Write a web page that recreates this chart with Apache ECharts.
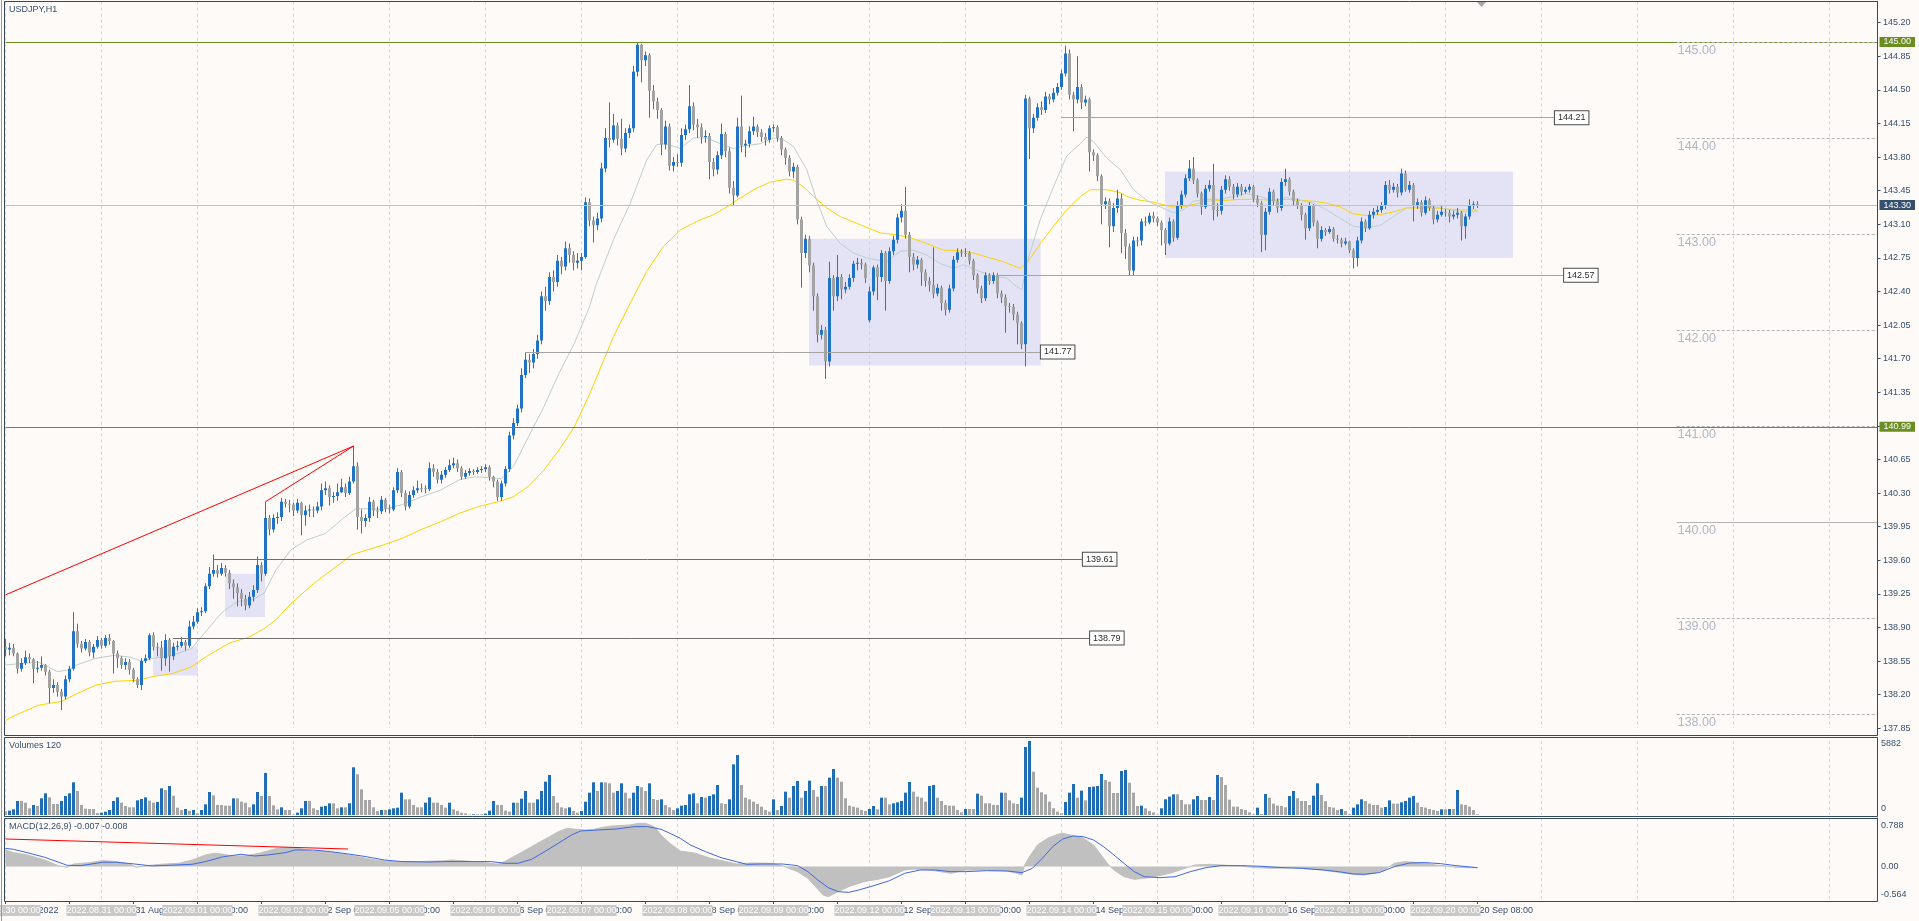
<!DOCTYPE html>
<html><head><meta charset="utf-8">
<script src="https://cdn.jsdelivr.net/npm/echarts/dist/echarts.min.js"></script>
<style>html,body{margin:0;padding:0;background:#FEFAF8;overflow:hidden}#c{width:1919px;height:921px}</style>
</head><body><div id="c"></div><script>
// ---------------- data ----------------
const chartTitle = 'USDJPY,H1';
const volumeTitle = 'Volumes 120';
const macdTitle = 'MACD(12,26,9) -0.007 -0.008';
const days = ['2022.08.30','2022.08.31','2022.09.01','2022.09.02','2022.09.05','2022.09.06','2022.09.07','2022.09.08','2022.09.09','2022.09.12','2022.09.13','2022.09.14','2022.09.15','2022.09.16','2022.09.19','2022.09.20'];
const lastHour = 8;
const monthNames = {'08':'Aug','09':'Sep'};
const firstLabel = '30 Aug 2022';
const firstOpen = 138.70;
const openGaps = [[216, 142.10]];
const closes = [
138.67,138.69,138.63,138.47,138.53,138.59,138.57,138.47,138.48,138.51,
138.44,138.27,138.30,138.23,138.18,138.36,138.47,138.86,138.73,138.68,
138.75,138.64,138.70,138.77,138.71,138.79,138.76,138.63,138.58,138.51,
138.54,138.46,138.36,138.30,138.55,138.58,138.82,138.70,138.69,138.58,
138.77,138.60,138.70,138.71,138.75,138.71,138.91,138.96,139.06,139.07,
139.33,139.46,139.50,139.46,139.52,139.47,139.36,139.32,139.26,139.20,
139.13,139.22,139.29,139.55,139.46,140.04,139.92,140.04,140.05,140.21,
140.19,140.18,140.12,140.20,140.07,140.12,140.13,140.12,140.16,140.33,
140.35,140.26,140.27,140.31,140.36,140.30,140.42,140.58,140.05,140.01,
140.04,140.21,140.12,140.11,140.23,140.14,140.13,140.33,140.52,140.30,
140.16,140.28,140.33,140.35,140.35,140.34,140.56,140.52,140.44,140.49,
140.54,140.59,140.61,140.56,140.47,140.51,140.53,140.52,140.54,140.55,
140.57,140.47,140.42,140.26,140.40,140.55,140.90,141.03,141.18,141.53,
141.69,141.66,141.75,141.89,142.35,142.30,142.55,142.50,142.72,142.66,
142.85,142.78,142.70,142.72,142.76,143.33,143.14,143.09,143.16,143.68,
144.00,143.98,144.13,143.99,143.89,144.05,144.10,144.69,144.97,144.81,
144.86,144.49,144.38,144.29,143.93,144.12,143.71,143.75,143.74,144.03,
144.09,144.33,144.14,144.11,144.01,144.02,143.75,143.67,143.82,144.04,
143.86,143.48,143.40,144.12,143.92,143.94,144.07,144.12,144.06,144.01,
143.98,144.10,144.11,144.00,143.88,143.79,143.65,143.70,143.15,142.80,
142.95,142.67,142.35,141.95,142.00,141.67,142.54,142.35,142.55,142.42,
142.45,142.54,142.69,142.70,142.68,142.54,142.40,142.65,142.55,142.80,
142.51,142.82,142.94,143.17,143.24,142.99,142.76,142.68,142.73,142.60,
142.51,142.47,142.38,142.44,142.28,142.21,142.43,142.73,142.81,142.80,
142.80,142.72,142.57,142.43,142.33,142.57,142.51,142.57,142.38,142.34,
142.25,142.24,142.16,142.07,141.85,144.41,144.10,144.21,144.32,144.29,
144.43,144.40,144.47,144.53,144.67,144.88,144.45,144.40,144.53,144.37,
144.40,143.85,143.82,143.60,143.31,143.34,143.08,143.27,143.37,143.01,
142.87,142.62,142.93,142.93,143.13,143.12,143.19,143.16,143.12,143.04,
142.90,143.13,142.96,143.30,143.41,143.58,143.68,143.56,143.42,143.28,
143.47,143.51,143.25,143.24,143.46,143.57,143.49,143.41,143.49,143.44,
143.46,143.49,143.37,143.32,142.99,143.23,143.44,143.34,143.27,143.54,
143.57,143.44,143.34,143.30,143.20,143.06,143.29,143.12,142.95,143.04,
143.02,143.05,142.95,142.94,142.90,142.92,142.83,142.75,142.93,143.13,
143.06,143.20,143.23,143.25,143.29,143.51,143.46,143.49,143.43,143.63,
143.46,143.51,143.30,143.33,143.22,143.35,143.27,143.15,143.20,143.23,
143.22,143.18,143.20,143.22,143.08,143.18,143.30,143.31,143.30];
const highs = [
138.78,138.74,138.73,138.64,138.58,138.66,138.63,138.58,138.55,138.60,
138.52,138.46,138.36,138.33,138.26,138.40,138.50,139.06,138.94,138.76,
138.78,138.77,138.73,138.81,138.79,138.82,138.83,138.77,138.66,138.60,
138.58,138.57,138.48,138.38,138.58,138.62,138.84,138.85,138.74,138.76,
138.83,138.79,138.74,138.76,138.80,138.77,138.97,139.02,139.10,139.11,
139.36,139.53,139.66,139.55,139.57,139.55,139.50,139.40,139.36,139.30,
139.24,139.27,139.34,139.64,139.58,140.21,140.07,140.08,140.10,140.25,
140.24,140.23,140.20,140.24,140.21,140.17,140.18,140.16,140.21,140.40,
140.42,140.38,140.31,140.40,140.45,140.40,140.47,140.79,140.62,140.13,
140.08,140.26,140.23,140.16,140.27,140.25,140.18,140.36,140.56,140.54,
140.33,140.32,140.37,140.43,140.40,140.38,140.62,140.60,140.55,140.53,
140.57,140.65,140.67,140.65,140.58,140.54,140.56,140.55,140.57,140.58,
140.60,140.59,140.48,140.44,140.43,140.58,140.94,141.08,141.22,141.60,
141.77,141.75,141.80,141.95,142.40,142.45,142.60,142.62,142.78,142.76,
142.92,142.90,142.82,142.80,142.80,143.38,143.37,143.18,143.22,143.74,
144.10,144.37,144.25,144.16,144.20,144.10,144.14,144.75,144.99,144.98,
144.90,144.88,144.55,144.42,144.31,144.18,144.15,143.80,143.83,144.10,
144.14,144.55,144.37,144.20,144.15,144.08,144.05,143.79,143.86,144.15,
144.06,143.90,143.55,144.21,144.44,143.98,144.12,144.22,144.14,144.09,
144.05,144.13,144.14,144.13,144.02,143.90,143.82,143.74,143.72,143.18,
142.99,142.98,142.70,142.38,142.05,142.03,142.71,142.57,142.78,142.58,
142.50,142.58,142.72,142.75,142.74,142.70,142.45,142.67,142.68,142.83,
142.82,142.86,142.98,143.21,143.31,143.49,143.02,142.80,142.77,142.75,
142.63,142.55,142.86,142.48,142.46,142.31,142.47,142.77,142.85,142.84,
142.85,142.82,142.74,142.59,142.46,142.60,142.59,142.60,142.59,142.41,
142.37,142.28,142.27,142.19,142.09,144.45,144.43,144.25,144.36,144.38,
144.48,144.46,144.52,144.57,144.71,144.96,144.92,144.48,144.85,144.56,
144.44,144.42,143.88,143.84,143.62,143.38,143.37,143.32,143.46,143.42,
143.05,142.90,142.97,142.97,143.16,143.18,143.22,143.23,143.18,143.14,
143.06,143.17,143.15,143.34,143.45,143.62,143.77,143.80,143.58,143.44,
143.51,143.56,143.73,143.32,143.50,143.61,143.60,143.52,143.53,143.52,
143.49,143.52,143.51,143.40,143.34,143.27,143.48,143.46,143.37,143.58,
143.68,143.59,143.46,143.37,143.32,143.22,143.33,143.31,143.14,143.08,
143.06,143.08,143.07,142.99,142.96,142.96,142.93,142.85,142.97,143.17,
143.15,143.24,143.27,143.29,143.33,143.55,143.56,143.53,143.52,143.68,
143.66,143.55,143.53,143.37,143.35,143.39,143.37,143.29,143.24,143.29,
143.26,143.25,143.24,143.27,143.24,143.21,143.36,143.34,143.34];
const lows = [
138.60,138.61,138.60,138.42,138.44,138.51,138.53,138.32,138.43,138.45,
138.40,138.11,138.22,138.18,138.04,138.15,138.33,138.45,138.69,138.64,
138.66,138.60,138.58,138.68,138.68,138.69,138.72,138.42,138.48,138.47,
138.46,138.41,138.33,138.27,138.25,138.53,138.56,138.66,138.60,138.45,
138.50,138.44,138.56,138.66,138.69,138.66,138.69,138.88,138.94,139.02,
139.05,139.30,139.43,139.42,139.44,139.43,139.30,139.20,139.12,139.12,
139.08,139.10,139.17,139.26,139.38,139.44,139.86,139.89,139.98,140.01,
140.15,140.10,140.06,140.09,139.86,139.96,140.05,140.05,140.09,140.12,
140.28,140.17,140.20,140.22,140.30,140.26,140.28,140.40,139.92,139.88,
139.95,140.00,140.06,140.04,140.08,140.10,140.09,140.11,140.30,140.26,
140.12,140.14,140.25,140.30,140.31,140.30,140.32,140.47,140.40,140.40,
140.46,140.52,140.56,140.52,140.44,140.45,140.48,140.49,140.50,140.51,
140.52,140.43,140.36,140.22,140.22,140.37,140.52,140.86,141.00,141.14,
141.50,141.55,141.60,141.70,141.85,142.20,142.26,142.40,142.45,142.58,
142.62,142.70,142.62,142.64,142.62,142.74,143.08,142.91,143.04,143.12,
143.64,143.90,143.95,143.92,143.82,143.85,144.00,144.06,144.64,144.58,
144.75,144.21,144.30,144.20,143.82,143.88,143.66,143.65,143.70,143.70,
143.98,144.05,144.08,144.00,143.94,143.95,143.57,143.60,143.62,143.78,
143.80,143.42,143.30,143.38,143.85,143.80,143.90,144.03,144.01,143.96,
143.92,143.95,144.06,143.96,143.82,143.72,143.60,143.58,143.10,142.44,
142.75,142.60,142.20,141.87,141.90,141.49,141.62,142.20,142.30,142.32,
142.38,142.42,142.50,142.62,142.63,142.49,142.08,142.36,142.31,142.50,
142.20,142.48,142.78,142.90,143.12,142.95,142.60,142.62,142.64,142.46,
142.45,142.40,142.33,142.35,142.20,142.15,142.18,142.40,142.70,142.76,
142.76,142.68,142.52,142.38,142.28,142.30,142.47,142.48,142.33,142.28,
141.97,142.18,142.10,141.85,141.80,141.62,143.78,144.05,144.18,144.24,
144.26,144.35,144.37,144.44,144.50,144.64,144.40,144.07,144.36,144.30,
144.33,143.65,143.76,143.55,143.10,143.26,142.86,143.02,143.22,142.80,
142.74,142.57,142.57,142.87,142.88,143.08,143.10,143.12,143.08,142.88,
142.78,142.88,142.92,142.94,143.26,143.38,143.55,143.52,143.38,143.20,
143.26,143.44,143.14,143.18,143.20,143.42,143.45,143.36,143.38,143.40,
143.42,143.43,143.33,143.28,142.81,142.83,143.20,143.30,143.22,143.24,
143.50,143.40,143.30,143.26,143.14,142.94,143.03,143.08,142.85,142.92,
142.98,143.00,142.92,142.90,142.86,142.88,142.80,142.64,142.66,142.90,
143.02,143.04,143.16,143.20,143.22,143.26,143.42,143.43,143.38,143.40,
143.44,143.43,143.13,143.26,143.18,143.20,143.24,143.10,143.12,143.18,
143.18,143.12,143.15,143.16,142.93,142.95,143.15,143.26,143.27];
const volumes = [
300,345,450,1113,1113,980,530,795,715,1325,
1722,1404,875,875,1113,1510,1722,2597,1908,795,
503,477,477,159,185,265,397,1113,1404,980,
715,610,610,1166,1272,1404,1140,980,1033,2120,
1987,2305,1537,583,397,477,345,397,132,397,
848,1828,1563,795,795,742,742,1325,1325,1060,
980,610,848,1828,1510,3339,1510,768,450,610,
397,397,30,185,530,1113,1113,530,397,662,
715,927,927,530,610,610,927,3790,3233,2040,
1192,1192,610,318,397,397,450,530,583,1775,
1245,1245,795,610,610,980,1404,980,980,795,
583,980,450,318,185,132,30,53,53,53,
106,345,1113,795,795,345,265,980,980,1298,
1908,980,980,1245,1908,2650,3180,1510,980,610,
530,610,318,185,318,1060,1775,2597,1908,2597,
2597,2517,1775,1908,2517,1775,1325,1775,2305,2200,
1908,2517,1272,1192,1245,795,610,397,530,
742,795,1643,1723,928,1431,1378,1511,1643,2385,928,
875,1246,4028,4770,2385,1378,1246,1060,875,663,
398,265,1246,398,716,1855,1378,2306,2703,1378,
1908,2730,1988,1458,2306,2306,2968,3657,2968,2650,
1325,742,663,583,398,318,477,716,451,1378,
1378,848,928,1007,1113,1776,2624,1855,1458,1378,
1060,2306,2385,1378,1113,795,742,742,398,212,
477,477,477,1696,1537,928,928,795,795,1776,
1776,1166,928,875,1378,5406,5882,3445,2173,1802,
1643,1060,530,265,133,1034,1776,2465,1378,1935,
1166,2226,2253,2306,3260,2783,2650,1749,1749,3498,
3578,2571,1776,716,742,530,318,212,30,530,
1246,1458,1643,1643,1193,848,848,1246,1511,1193,
1193,1431,1193,3180,3021,2385,1219,663,663,477,
398,212,53,583,80,1670,1378,901,742,716,
610,1511,1908,1325,1113,1113,795,1537,2518,1590,
1100,636,583,398,477,318,53,583,848,1246,
1113,901,795,795,583,636,1166,901,901,1007,
1113,1378,1511,980,636,583,477,398,318,451,
451,477,477,1988,848,795,663,398,53];
const maFast = [[0,138.51],[8.2,138.54],[13,138.44],[15.9,138.46],[17.8,138.51],[22.6,138.58],[27.4,138.61],[31.2,138.59],[34.1,138.55],[37,138.58],[41.7,138.61],[46.5,138.68],[50.3,138.87],[54.2,139.06],[58,139.17],[61.8,139.19],[64.7,139.26],[67.6,139.5],[71.4,139.71],[75.2,139.81],[80,139.88],[84.8,140.05],[87.7,140.14],[94.4,140.13],[99.2,140.18],[103.9,140.26],[108.7,140.33],[113.5,140.44],[117.3,140.47],[121.2,140.46],[124,140.45],[127,140.58],[130.8,140.89],[134.6,141.2],[138.4,141.55],[142.2,141.86],[146,142.24],[147.8,142.49],[152,142.94],[156.2,143.32],[160.3,143.77],[162.8,143.93],[165,143.94],[168.7,143.89],[172,144.0],[175.3,144.0],[178.7,143.94],[182,143.89],[185.3,143.92],[188.7,143.94],[192,144.0],[194.5,143.98],[197,143.91],[200.3,143.67],[202.8,143.35],[205.3,143.08],[208.7,142.9],[212,142.8],[215.3,142.75],[220.3,142.71],[223.7,142.82],[227,142.83],[230.3,142.78],[233.7,142.69],[237,142.64],[239.5,142.68],[242.8,142.62],[247,142.56],[250.3,142.54],[252.8,142.45],[254.1,142.42],[255.3,142.69],[258.7,143.15],[262,143.49],[265.3,143.81],[268.7,143.94],[270.3,144.01],[272,143.96],[275.3,143.79],[278.7,143.67],[282,143.46],[285.3,143.35],[288.7,143.28],[292,143.22],[294.5,143.25],[297,143.34],[300.3,143.36],[303.7,143.36],[307,143.39],[310.3,143.42],[313.7,143.39],[317,143.34],[320.3,143.38],[323.7,143.35],[327,143.32],[330.3,143.25],[333.7,143.16],[337,143.08],[340.3,143.06],[343.7,143.09],[347,143.18],[350.3,143.27],[353.7,143.28],[357,143.28],[360.3,143.26],[363.7,143.23],[368,143.23]];
const maSlow = [[0,137.93],[1.6,137.97],[8.2,138.09],[14,138.13],[17.8,138.21],[22.6,138.3],[27.4,138.34],[33.1,138.35],[37,138.39],[41.7,138.42],[46.5,138.49],[50.3,138.6],[56.1,138.74],[60.9,138.8],[64.7,138.89],[67.6,138.98],[71.4,139.15],[77.1,139.36],[84.8,139.6],[86.7,139.66],[94.4,139.76],[99.2,139.83],[103.9,139.92],[108.7,140.0],[113.5,140.09],[118.3,140.16],[123.1,140.21],[126.9,140.26],[130.7,140.37],[134.6,140.54],[138.4,140.75],[142.2,140.99],[146,141.33],[147.8,141.51],[152,141.93],[156.2,142.28],[160.3,142.61],[164.5,142.87],[168.7,143.04],[172.8,143.13],[177,143.2],[180.3,143.28],[182.8,143.35],[187,143.46],[191.2,143.54],[195.3,143.57],[197,143.56],[199.5,143.49],[202,143.39],[205.3,143.27],[208.7,143.18],[212.8,143.11],[217,143.04],[218.7,143.01],[222.8,142.99],[226.2,142.96],[230.3,142.9],[234.5,142.83],[237,142.83],[241.2,142.81],[245.3,142.76],[249.5,142.71],[253.7,142.64],[255.3,142.69],[258.7,142.9],[262,143.08],[265.3,143.25],[268.7,143.39],[271.2,143.46],[275.3,143.46],[278.7,143.43],[280.3,143.39],[283.7,143.35],[287,143.33],[288.7,143.31],[292,143.28],[295.3,143.29],[300.3,143.34],[305.3,143.35],[308.7,143.36],[312,143.36],[317,143.35],[320.3,143.36],[323.7,143.35],[327,143.34],[330.3,143.32],[333.7,143.28],[337,143.21],[340.3,143.19],[343.7,143.2],[347,143.23],[350.3,143.27],[353.7,143.27],[357,143.27],[360.3,143.26],[363.7,143.25],[368,143.25]];
const macdHist = [[0,0.267],[2,0.224],[5.4,0.186],[9.8,0.104],[13.2,0.012],[15.4,-0.015],[17.1,0.039],[21,0.061],[24.3,0.094],[27.7,0.078],[31,0.039],[32.7,-0.015],[35.5,0.012],[38.8,0.034],[43.3,0.05],[46.7,0.104],[50,0.186],[52.2,0.213],[54.5,0.197],[56.7,0.169],[59.5,0.169],[61.2,0.186],[63.4,0.213],[65.6,0.251],[67.9,0.294],[70.1,0.305],[72.3,0.305],[74.6,0.278],[76.8,0.251],[79,0.251],[81.3,0.229],[83.5,0.213],[85.7,0.186],[88,0.158],[90.2,0.131],[92.4,0.104],[94.7,0.088],[96.9,0.078],[102.5,0.078],[109.2,0.088],[111.4,0.104],[113.6,0.094],[117,0.078],[121.4,0.05],[123.1,0.034],[124.8,0.078],[127,0.158],[129.3,0.24],[131.5,0.321],[133.7,0.403],[136,0.484],[138.2,0.566],[140.4,0.62],[142.6,0.604],[144.9,0.593],[147.1,0.604],[149.3,0.636],[151.6,0.658],[156,0.674],[158.3,0.701],[160,0.701],[162.2,0.647],[163.9,0.511],[166.1,0.376],[168.7,0.251],[172.5,0.213],[176.3,0.131],[180.2,0.077],[182.7,0.039],[186.5,0.055],[191.6,0.05],[194.2,0.012],[195.5,-0.021],[198,-0.086],[200.6,-0.194],[202.5,-0.33],[204.4,-0.466],[205.7,-0.493],[208.2,-0.412],[210.8,-0.33],[214.6,-0.249],[218.4,-0.206],[221,-0.168],[224.8,-0.059],[227.3,-0.043],[231.2,-0.059],[233.7,-0.086],[236.3,-0.113],[240.1,-0.059],[245.2,-0.059],[250.3,-0.075],[252.9,-0.113],[254.1,-0.14],[254.8,0.023],[256,0.159],[258,0.349],[260.5,0.457],[263.1,0.523],[264.3,0.539],[266.9,0.501],[269.4,0.457],[272,0.349],[273.9,0.186],[275.8,0.023],[277.1,-0.059],[279.6,-0.168],[282.2,-0.211],[284.7,-0.195],[287.3,-0.168],[291.1,-0.113],[294.9,-0.032],[297.5,0.023],[301.3,0.034],[306.4,0.012],[309,0.001],[312.8,-0.021],[316.6,-0.032],[321.7,-0.021],[325.6,-0.043],[329.4,-0.059],[333.2,-0.097],[337,-0.129],[339.6,-0.14],[342.1,-0.113],[344.7,-0.059],[347.2,0.05],[349.8,0.077],[352.3,0.066],[354.9,0.05],[357.4,0.023],[360,0.007],[362.6,-0.015],[365.1,-0.021],[368,-0.021]];
const macdSignal = [[0,0.294],[2,0.278],[5.4,0.224],[9.8,0.148],[15.4,0.018],[18.8,0.012],[24.3,0.067],[27.7,0.067],[32.2,0.039],[36.6,0.007],[41.1,0.018],[46.7,0.034],[50,0.078],[54.5,0.158],[58.9,0.197],[62.3,0.169],[65.6,0.186],[70.1,0.224],[72.3,0.267],[76.8,0.267],[81.3,0.24],[85.7,0.202],[90.2,0.158],[94.7,0.104],[99.1,0.078],[105.8,0.072],[110.3,0.078],[117,0.078],[121.4,0.078],[124.8,0.05],[128.1,0.05],[131.5,0.115],[134.8,0.24],[138.2,0.376],[141.5,0.511],[143.8,0.577],[148.2,0.593],[152.7,0.609],[157.2,0.647],[160.5,0.647],[163.9,0.604],[166.1,0.539],[168.7,0.457],[171.2,0.349],[175,0.24],[178.9,0.142],[182.7,0.077],[185.3,0.034],[189.1,0.039],[194.2,0.039],[198,0.012],[200.6,-0.086],[203.1,-0.222],[205.7,-0.347],[208.2,-0.412],[210.8,-0.423],[213.3,-0.385],[217.1,-0.314],[221,-0.233],[224.8,-0.113],[228.6,-0.059],[232.5,-0.059],[236.3,-0.086],[240.1,-0.086],[245.2,-0.07],[250.3,-0.075],[254.1,-0.102],[256.7,-0.032],[259.2,0.131],[261.8,0.321],[264.3,0.446],[266.9,0.495],[269.4,0.484],[272,0.43],[274.5,0.321],[277.1,0.186],[279.6,0.05],[282.2,-0.086],[284.7,-0.168],[288.6,-0.184],[292.4,-0.168],[296.2,-0.086],[300.1,-0.021],[303.9,0.012],[309,0.012],[314.1,0.001],[319.2,-0.021],[324.3,-0.032],[329.4,-0.059],[333.2,-0.086],[337,-0.124],[339.6,-0.129],[343.4,-0.102],[347.2,-0.005],[351.1,0.055],[354.9,0.061],[358.7,0.045],[362.6,0.012],[368,-0.021]];
const macdTrend = [[0,0.446],[85.6,0.283]];
const priceAxis = {min:137.85, max:145.42, step:0.35};
const volumeMax = 5882;
const macdAxis = {min:-0.564, max:0.788, step:0.564};
const levelLines = [145.00, 140.99];
const bidPrice = 143.30;
const labelledLines = [[264,387.1,144.21],[248,389.4,142.57],[129.9,258.6,141.77],[51.9,269.1,139.61],[41.9,270.9,138.79]];
const trendLines = [[[0,139.24],[87,140.79]],[[65,140.21],[87,140.79]]];
const zones = [[36.9,48.0,138.70,138.40],[54.9,64.9,139.46,139.01],[200.9,258.8,142.95,141.63],[289.9,376.9,143.65,142.75]];
const roundLevels = [145,144,143,142,141,140,139,138];
const roundStart = 417.8;
const xMax = 468;

// ---------------- styles ----------------
const BG='#FEFAF8', UP='#1F72C4', DOWN='#A3A3A3', WICK='#5F6B6E', VUP='#1F6DB5', VDOWN='#A6A6A6';
const MAF='#BBCFCD', MAS='#FFD200', GRID='#D6D6D6', BORDER='#34495E', TXT='#34506E';
const LEVEL='#6B8E23', BIDC='#C0C0C0', ZONE='rgba(190,196,240,0.42)';
const FONT='"Liberation Sans", Arial, sans-serif';

// ---------------- build ----------------
const N = closes.length;
const gapMap = new Map(openGaps);
const candles = closes.map((c,i)=>[i, gapMap.has(i)?gapMap.get(i):(i===0?firstOpen:closes[i-1]), c, lows[i], highs[i]]);
const volData = volumes.map((v,i)=>({value:[i,v], itemStyle:{color:(i>0 && v>volumes[i-1])?VUP:VDOWN}}));
const cats = [];
days.forEach((d,di)=>{ const hmax = di===days.length-1 ? lastHour : 23; for(let h=0;h<=hmax;h++) cats.push(d+' '+String(h).padStart(2,'0')+':00'); });
while(cats.length < xMax+1) cats.push('');
function mt4Label(v, idx){
  if(idx===0) return firstLabel;
  const m = v.match(/^(\d{4})\.(\d{2})\.(\d{2}) (\d{2}:\d{2})$/);
  return m ? (parseInt(m[3],10)+' '+monthNames[m[2]]+' '+m[4]) : '';
}
const valueX = g => ({type:'value', gridIndex:g, min:0, max:xMax, interval:24, position:'bottom',
  axisLine:{show:false,onZero:false}, axisTick:{show:false}, axisLabel:{show:false},
  splitLine:{show:true, lineStyle:{color:GRID, type:[3,3], width:1}}});
const gridBase = {left:5.5, right:41.5, outerBoundsMode:'none', containLabel:false};

const markLines = [];
levelLines.forEach(p=>markLines.push({yAxis:p, lineStyle:{color:LEVEL,width:1,type:'solid'},
  label:{show:true, position:'end', distance:2, formatter:p.toFixed(2), color:'#FFFFFF', backgroundColor:LEVEL, padding:[1,4,0,4], lineHeight:9, fontSize:9, fontFamily:FONT}}));
markLines.push({yAxis:bidPrice, lineStyle:{color:BIDC,width:1,type:'solid'},
  label:{show:true, position:'end', distance:2, formatter:bidPrice.toFixed(2), color:'#FFFFFF', backgroundColor:'#34506E', padding:[1,4,0,4], lineHeight:9, fontSize:9, fontFamily:FONT}});
labelledLines.forEach((l,k)=>markLines.push([{coord:[l[0],l[2]], lineStyle:{color:k<3?'#A4A4A4':'#6E6E6E',width:1,type:'solid'},
  label:{show:true, position:'end', distance:1, formatter:l[2].toFixed(2), color:'#2B2B2B', backgroundColor:'#FFFFFF', borderColor:'#4A4A4A', borderWidth:1, padding:[2,3,1,3], lineHeight:10, fontSize:9, fontFamily:FONT}},{coord:[l[1],l[2]]}]));
trendLines.forEach(t=>markLines.push([{coord:t[0], lineStyle:{color:'#FF0000',width:1,type:'solid'}, label:{show:false}},{coord:t[1]}]));
roundLevels.forEach(p=>markLines.push([{coord:[roundStart,p], lineStyle:{color:'#B4B4B4',width:1,type:p===140?'solid':[3,2]},
  label:{show:true, position:'insideStartBottom', distance:[1,2], formatter:p.toFixed(2), color:'#ADB6C4', fontSize:12.5, fontFamily:FONT}},{coord:[xMax,p]}]));

const option = {
  backgroundColor: BG, animation:false, textStyle:{fontFamily:FONT},
  grid:[
    Object.assign({top:1.58, height:726.72}, gridBase),
    Object.assign({top:741, height:74}, gridBase),
    Object.assign({top:818, height:83}, gridBase)
  ],
  xAxis:[ valueX(0), valueX(1), valueX(2),
    {type:'category', gridIndex:2, data:cats, boundaryGap:false, position:'bottom', z:3,
     axisLine:{show:false,onZero:false},
     axisTick:{show:true, interval:(i)=>i%16===0 && i<N, length:3, lineStyle:{color:TXT}},
     axisLabel:{show:true, interval:(i)=>i%16===0 && i<N, formatter:mt4Label, align:'left', margin:4, fontSize:9, color:TXT, lineHeight:10, padding:[1,0,0,2], fontFamily:FONT},
     splitLine:{show:false}},
    {type:'category', gridIndex:2, data:cats, boundaryGap:false, position:'bottom', z:4,
     axisLine:{show:false,onZero:false}, axisTick:{show:false},
     axisLabel:{show:true, interval:(i)=>i%24===0 && i<N, formatter:(v)=>v, align:'center', margin:4, fontSize:9, color:'#FFFFFF', backgroundColor:'#C8C8C8', lineHeight:10, padding:[1,0,0,0], fontFamily:FONT},
     splitLine:{show:false}}
  ],
  yAxis:[
    {type:'value', gridIndex:0, position:'right', min:priceAxis.min, max:priceAxis.max, interval:priceAxis.step,
     axisLine:{show:true,onZero:false,lineStyle:{color:BORDER}}, axisTick:{show:true,length:3,lineStyle:{color:TXT}},
     axisLabel:{show:true, margin:5.5, fontSize:9, color:TXT, fontFamily:FONT, showMaxLabel:false, showMinLabel:true, formatter:(v)=>v.toFixed(2)},
     splitLine:{show:false}},
    {type:'value', gridIndex:1, position:'right', min:0, max:volumeMax, interval:volumeMax,
     axisLine:{show:true,onZero:false,lineStyle:{color:BORDER}}, axisTick:{show:false},
     axisLabel:{show:true, margin:3.5, fontSize:9, color:TXT, fontFamily:FONT, showMaxLabel:true, showMinLabel:true,
       formatter:(v)=> v===0 ? '{b|0}' : '{t|'+v+'}',
       rich:{t:{padding:[6,0,0,0],fontSize:9,color:TXT,fontFamily:FONT}, b:{padding:[0,0,12,0],fontSize:9,color:TXT,fontFamily:FONT}}},
     splitLine:{show:false}},
    {type:'value', gridIndex:2, position:'right', min:macdAxis.min, max:macdAxis.max, interval:macdAxis.step,
     axisLine:{show:true,onZero:false,lineStyle:{color:BORDER}}, axisTick:{show:false},
     axisLabel:{show:true, margin:3.5, fontSize:9, color:TXT, fontFamily:FONT, showMaxLabel:true, showMinLabel:true,
       formatter:(v)=> Math.abs(v)<1e-9 ? '0.00' : (v<0 ? '{b|'+v.toFixed(3)+'}' : (Math.abs(v-macdAxis.max)<1e-9 ? '{t|'+v.toFixed(3)+'}' : '')),
       rich:{t:{padding:[15,0,0,0],fontSize:9,color:TXT,fontFamily:FONT}, b:{padding:[0,0,13,0],fontSize:9,color:TXT,fontFamily:FONT}}},
     splitLine:{show:false}}
  ],
  series:[
    {type:'line', name:'MA slow', xAxisIndex:0, yAxisIndex:0, data:maSlow, symbol:'none', z:2, silent:true, clip:true,
     lineStyle:{color:MAS,width:1},
     markArea:{silent:true, itemStyle:{color:ZONE}, data:zones.map(z=>[{coord:[z[0],z[2]]},{coord:[z[1],z[3]]}])}},
    {type:'line', name:'MA fast', xAxisIndex:0, yAxisIndex:0, data:maFast, symbol:'none', z:2, silent:true, clip:true,
     lineStyle:{color:MAF,width:1}},
    {type:'custom', name:'USDJPY', xAxisIndex:0, yAxisIndex:0, data:candles, z:3, clip:true, silent:true,
     encode:{x:0, y:[1,2,3,4]},
     renderItem:(params, api)=>{
       const i=api.value(0), o=api.value(1), c=api.value(2), l=api.value(3), h=api.value(4);
       const pO=api.coord([i,o]), pC=api.coord([i,c]), pL=api.coord([i,l]), pH=api.coord([i,h]);
       const x=Math.round(pO[0]-0.5)+0.5;
       const top=Math.min(pO[1],pC[1]), bot=Math.max(pO[1],pC[1]);
       return {type:'group', children:[
         {type:'line', shape:{x1:x,y1:pH[1],x2:x,y2:pL[1]}, style:{stroke:WICK,lineWidth:1}},
         {type:'rect', shape:{x:x-1.5,y:top,width:3,height:Math.max(1,bot-top)}, style:{fill:c>o?UP:DOWN}}
       ]};
     },
     markLine:{silent:true, symbol:['none','none'], animation:false, data:markLines}},
    {type:'bar', name:'Volumes', xAxisIndex:1, yAxisIndex:1, data:volData, barWidth:3, z:2, silent:true},
    {type:'line', name:'MACD', xAxisIndex:2, yAxisIndex:2, data:macdHist, symbol:'none', z:2, silent:true,
     lineStyle:{color:'#C0C0C0',width:1}, areaStyle:{color:'#C0C0C0',opacity:1}},
    {type:'line', name:'Signal', xAxisIndex:2, yAxisIndex:2, data:macdSignal, symbol:'none', z:3, silent:true,
     lineStyle:{color:'#3F67E0',width:1},
     markLine:{silent:true, symbol:['none','none'], animation:false,
       data:[[{coord:macdTrend[0], lineStyle:{color:'#FF0000',width:1,type:'solid'}, label:{show:false}},{coord:macdTrend[1]}]]}}
  ],
  graphic:[
    {type:'rect', z:100, silent:true, shape:{x:4.5,y:1.5,width:1873,height:734}, style:{fill:null,stroke:BORDER,lineWidth:1}},
    {type:'rect', z:100, silent:true, shape:{x:4.5,y:737.5,width:1873,height:79}, style:{fill:null,stroke:BORDER,lineWidth:1}},
    {type:'rect', z:100, silent:true, shape:{x:4.5,y:818.5,width:1873,height:83}, style:{fill:null,stroke:BORDER,lineWidth:1}},
    {type:'line', z:100, silent:true, shape:{x1:1.5,y1:0,x2:1.5,y2:921}, style:{stroke:'#9A9A9A',lineWidth:1}},
    {type:'polygon', z:100, silent:true, shape:{points:[[1477,2],[1486,2],[1481.5,7]]}, style:{fill:'#A8A8A8'}},
    {type:'text', z:100, silent:true, x:9, y:5, style:{text:chartTitle, fill:TXT, fontSize:9, fontFamily:FONT, verticalAlign:'top', textVerticalAlign:'top'}},
    {type:'text', z:100, silent:true, x:9, y:741, style:{text:volumeTitle, fill:TXT, fontSize:9, fontFamily:FONT, verticalAlign:'top', textVerticalAlign:'top'}},
    {type:'text', z:100, silent:true, x:9, y:822.5, style:{text:macdTitle, fill:TXT, fontSize:9, fontFamily:FONT, verticalAlign:'top', textVerticalAlign:'top'}}
  ]
};
const chart = echarts.init(document.getElementById('c'));
chart.setOption(option);
</script></body></html>
